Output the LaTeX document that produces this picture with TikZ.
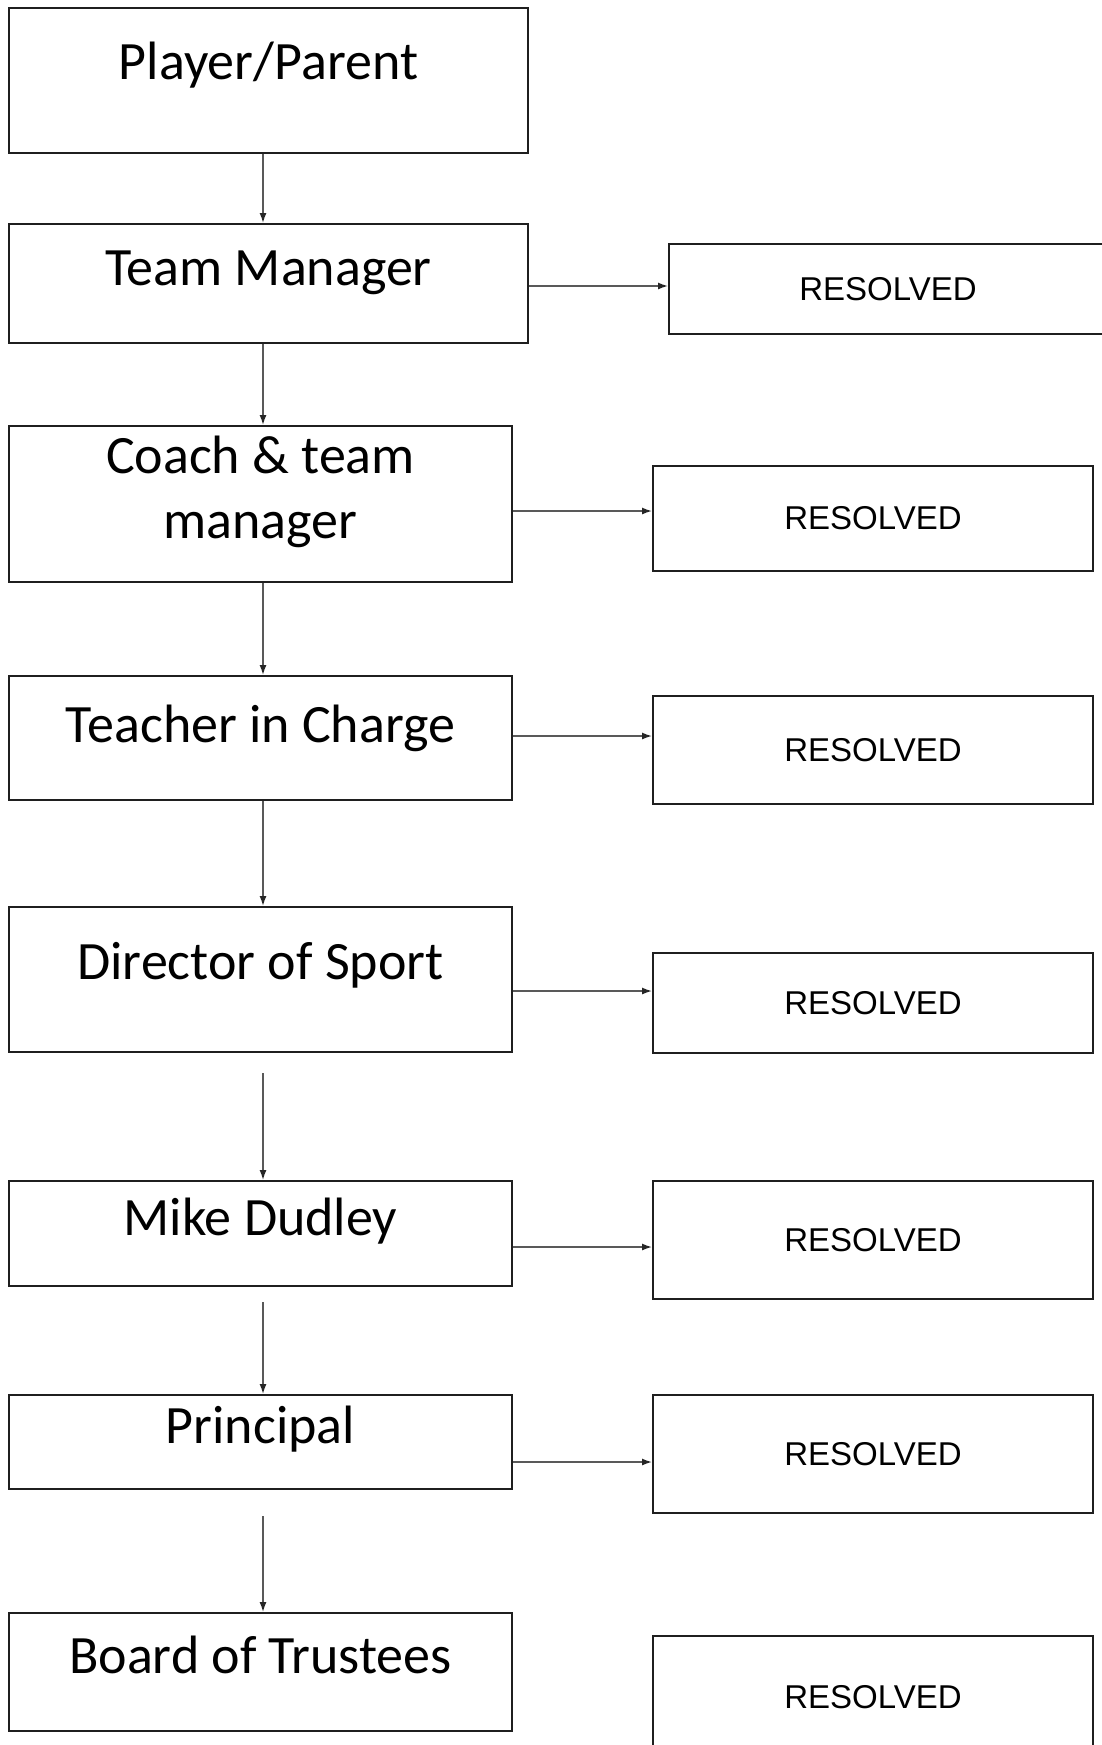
\documentclass[tikz,border=0pt]{standalone}
\usepackage{fontspec}
\setmainfont{Carlito}
\newfontfamily\resfont{Liberation Sans}
\usetikzlibrary{arrows.meta,calc}

\tikzset{
  stagebox/.style={draw=black!88, line width=2pt, minimum width=503pt, inner sep=0pt},
  stagetext/.style={font=\fontsize{54}{65}\selectfont, align=center, inner sep=0pt},
  outbox/.style={draw=black!88, line width=2pt, minimum width=440pt, inner sep=0pt,
    font=\resfont\fontsize{33}{40}\selectfont},
  flow/.style={draw=black!65, line width=1.4pt, -{Latex[length=10pt,width=7pt,color=black!85]}}
}

\begin{document}
\begin{tikzpicture}[x=1pt,y=-1pt]
  \useasboundingbox (0,0) rectangle (1101,1745);
  \coordinate (spine) at (263,0);

  % escalation steps
  \node[stagebox, minimum width=519pt, minimum height=145pt] (pp) at (268.5,80.5) {};
  \node[stagetext, anchor=base] (pp-t) at (268.5,80) {Player/Parent};
  \node[stagebox, minimum width=519pt, minimum height=119pt] (tm) at (268.5,283.5) {};
  \node[stagetext, anchor=base] (tm-t) at (268.5,285) {Team Manager};
  \node[stagebox, minimum height=156pt] (cm) at (260.5,504) {};
  \node[stagetext] (cm-t) at (260.5,492) {Coach \& team\\manager};
  \node[stagebox, minimum height=124pt] (tc) at (260.5,738) {};
  \node[stagetext, anchor=base] (tc-t) at (260.5,742) {Teacher in Charge};
  \node[stagebox, minimum height=145pt] (ds) at (260.5,979.5) {};
  \node[stagetext, anchor=base] (ds-t) at (260.5,979) {Director of Sport};
  \node[stagebox, minimum height=105pt] (md) at (260.5,1233.5) {};
  \node[stagetext, anchor=base] (md-t) at (260.5,1235) {Mike Dudley};
  \node[stagebox, minimum height=94pt] (pr) at (260.5,1442) {};
  \node[stagetext, anchor=base] (pr-t) at (260.5,1443.5) {Principal};
  \node[stagebox, minimum height=118pt] (bt) at (260.5,1672) {};
  \node[stagetext, anchor=base] (bt-t) at (260.5,1673) {Board of Trustees};

  % outcomes
  \node[outbox, minimum width=438pt, minimum height=90pt] (r1) at (888,289) {RESOLVED};
  \node[outbox, minimum height=105pt] (r2) at (873,518.5) {RESOLVED};
  \node[outbox, minimum height=108pt] (r3) at (873,750) {RESOLVED};
  \node[outbox, minimum height=100pt] (r4) at (873,1003) {RESOLVED};
  \node[outbox, minimum height=118pt] (r5) at (873,1240) {RESOLVED};
  \node[outbox, minimum height=118pt] (r6) at (873,1454) {RESOLVED};
  \node[outbox, minimum height=122pt] (r7) at (873,1697) {RESOLVED};

  % down the chain
  \draw[flow] (spine |- pp.south) -- (spine |- tm.north);
  \draw[flow] (spine |- tm.south) -- (spine |- cm.north);
  \draw[flow] (spine |- cm.south) -- (spine |- tc.north);
  \draw[flow] (spine |- tc.south) -- (spine |- ds.north);
  \draw[flow] ($(spine |- ds.south)+(0,20)$) -- (spine |- md.north);
  \draw[flow] ($(spine |- md.south)+(0,15)$) -- (spine |- pr.north);
  \draw[flow] ($(spine |- pr.south)+(0,26)$) -- (spine |- bt.north);

  % across to resolved
  \draw[flow] (tm.east |- 0,286) -- (r1.west |- 0,286);
  \draw[flow] (cm.east |- 0,511) -- (r2.west |- 0,511);
  \draw[flow] (tc.east |- 0,736) -- (r3.west |- 0,736);
  \draw[flow] (ds.east |- 0,991) -- (r4.west |- 0,991);
  \draw[flow] (md.east |- 0,1247) -- (r5.west |- 0,1247);
  \draw[flow] (pr.east |- 0,1462) -- (r6.west |- 0,1462);
\end{tikzpicture}
\end{document}
